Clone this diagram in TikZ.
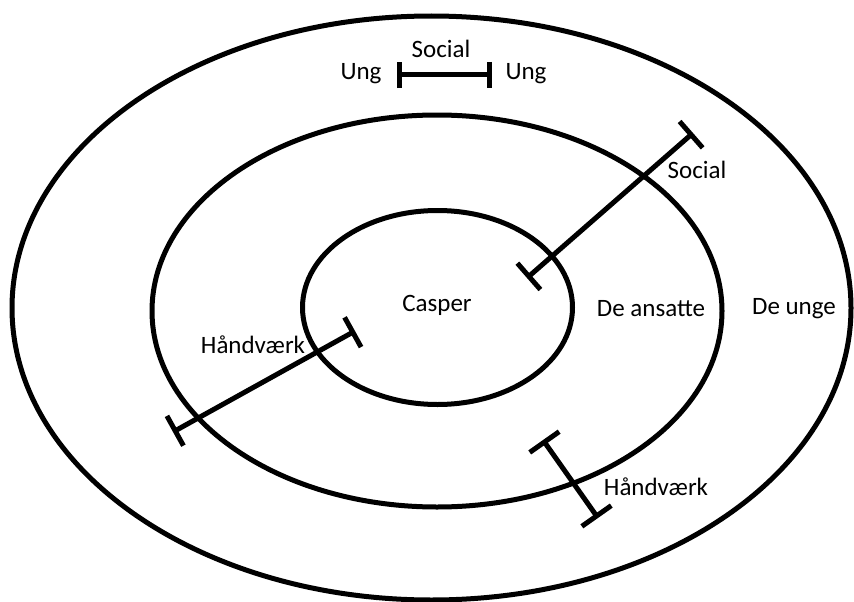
\documentclass[tikz,border=0pt]{standalone}
\usepackage{fontspec}
\setmainfont{Carlito}
\usetikzlibrary{arrows.meta,shapes.geometric}
\begin{document}
\begin{tikzpicture}[x=1pt,y=-1pt,
  ring/.style={draw=black,line width=5pt,ellipse,inner sep=0pt,outer sep=0pt},
  lbl/.style={font=\fontsize{25}{29}\selectfont,inner sep=0pt,text=black},
  tbar/.style={line width=5pt,{Bar[width=#1,line width=5pt]}-{Bar[width=#1,line width=5pt]}}]
\useasboundingbox[fill=white] (0,0) rectangle (854,602);
\node[ring,minimum width=839pt,minimum height=584pt] (outer) at (431.5,308) {};
\node[ring,minimum width=570pt,minimum height=392pt] (middle) at (437,311) {};
\node[ring,minimum width=270pt,minimum height=194pt] (inner) at (437.5,307.5) {};
% labels
\node[lbl] (casper) at (437,305) {Casper};
\node[lbl] (ansatte) at (651,309) {De ansatte};
\node[lbl] (unge) at (794,309) {De unge};
\node[lbl] (socialtop) at (441,49) {Social};
\node[lbl] (ungl) at (361,74) {Ung};
\node[lbl] (ungr) at (526,74) {Ung};
\node[lbl] (socialr) at (697,170) {Social};
\node[lbl] (haandl) at (253,345) {Håndværk};
\node[lbl] (haandr) at (656,487) {Håndværk};
% bars
\coordinate (t1) at (397,75);
\coordinate (t2) at (492,75);
\coordinate (s1) at (527,278);
\coordinate (s2) at (693,133);
\coordinate (h1) at (173,432);
\coordinate (h2) at (355,331);
\coordinate (k1) at (543,440);
\coordinate (k2) at (598,518);
\draw[tbar=26pt] (t1) -- (t2);
\draw[tbar=35pt] (s1) -- (s2);
\draw[tbar=34pt] (h1) -- (h2);
\draw[tbar=36pt] (k1) -- (k2);
\end{tikzpicture}
\end{document}
